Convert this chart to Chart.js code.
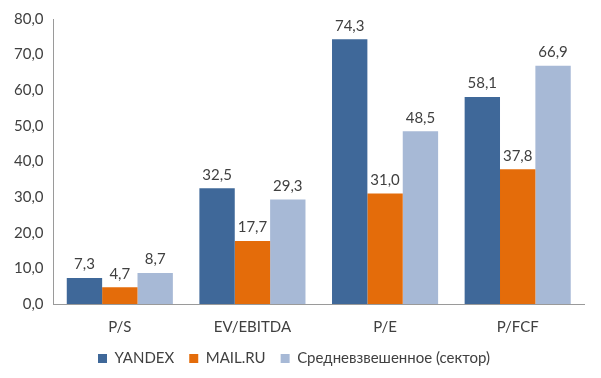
<!DOCTYPE html>
<html>
<head>
<meta charset="utf-8">
<script src="https://cdn.jsdelivr.net/npm/chart.js@4"></script>
<style>
  html, body { margin: 0; padding: 0; background: #fff; }
  #wrap { width: 601px; height: 378px; }
</style>
</head>
<body>
<div id="wrap"><canvas id="myChart"></canvas></div>
<script>
const categories = ['P/S', 'EV/EBITDA', 'P/E', 'P/FCF'];
const yandex = [7.3, 32.5, 74.3, 58.1];
const mailru = [4.7, 17.7, 31.0, 37.8];
const sector = [8.7, 29.3, 48.5, 66.9];

const fmt = v => v.toFixed(1).replace('.', ',');

// draws value above each bar
const valueLabels = {
  id: 'valueLabels',
  afterDatasetsDraw(chart) {
    const ctx = chart.ctx;
    ctx.save();
    ctx.font = '15px Lato';
    ctx.fillStyle = '#404040';
    ctx.textAlign = 'center';
    ctx.textBaseline = 'bottom';
    chart.data.datasets.forEach((ds, i) => {
      chart.getDatasetMeta(i).data.forEach((bar, j) => {
        ctx.fillText(fmt(ds.data[j]), bar.x, bar.y - 6);
      });
    });
    ctx.restore();
  }
};

Chart.defaults.font.family = 'Lato';
Chart.defaults.font.size = 15;
Chart.defaults.color = '#404040';

new Chart(document.getElementById('myChart'), {
  type: 'bar',
  data: {
    labels: categories,
    datasets: [
      { label: 'YANDEX', data: yandex, backgroundColor: '#3f6899' },
      { label: 'MAIL.RU', data: mailru, backgroundColor: '#e46c0a' },
      { label: 'Средневзвешенное (сектор)', data: sector, backgroundColor: '#a7b9d6' }
    ]
  },
  options: {
    responsive: true,
    maintainAspectRatio: false,
    animation: false,
    layout: { padding: { top: 6, right: 17, left: 4, bottom: 2 } },
    datasets: { bar: { categoryPercentage: 0.8, barPercentage: 1.0 } },
    plugins: {
      tooltip: { enabled: false },
      legend: {
        position: 'bottom',
        labels: { boxWidth: 9, boxHeight: 9, padding: 15, font: { size: 15 } }
      }
    },
    scales: {
      x: {
        grid: { display: false, drawTicks: false },
        border: { color: '#9a9a9a' },
        ticks: { padding: 14 },
        afterFit: s => { s.height -= 14; }
      },
      y: {
        min: 0,
        max: 80,
        grid: { display: false, drawTicks: false },
        border: { color: '#9a9a9a' },
        ticks: { stepSize: 10, padding: 10, callback: v => fmt(v) }
      }
    }
  },
  plugins: [valueLabels]
});
</script>
</body>
</html>
